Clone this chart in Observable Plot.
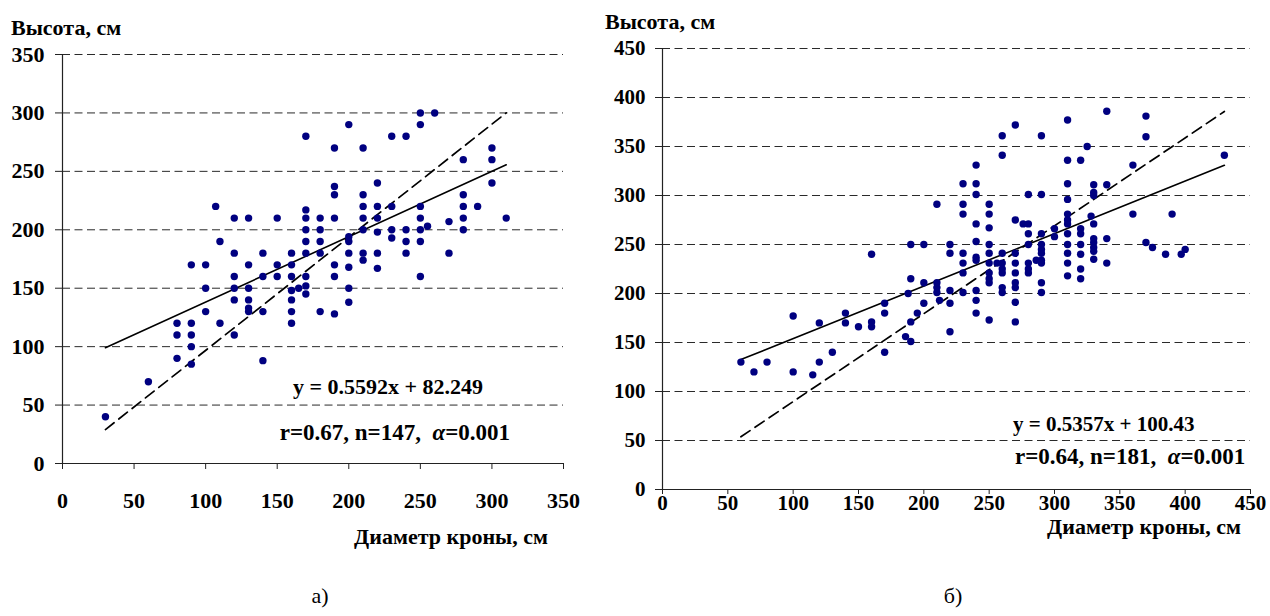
<!DOCTYPE html>
<html><head><meta charset="utf-8">
<script src="https://cdn.jsdelivr.net/npm/d3@7"></script>
<script src="https://cdn.jsdelivr.net/npm/@observablehq/plot@0.6"></script>
<style>
html,body{margin:0;padding:0;background:#fff;}
#page{position:relative;width:1270px;height:616px;overflow:hidden;font-family:"Liberation Serif","Times New Roman",serif;}
.panel{position:absolute;top:0;}
.t{position:absolute;white-space:pre;color:#000;line-height:1;}
</style></head><body><div id="page"></div>
<script>
// ---------- data ----------
const ticksXLeft = [0, 50, 100, 150, 200, 250, 300, 350];
const ticksYLeft = [0, 50, 100, 150, 200, 250, 300, 350];
const ticksXRight = [0, 50, 100, 150, 200, 250, 300, 350, 400, 450];
const ticksYRight = [0, 50, 100, 150, 200, 250, 300, 350, 400, 450];

// а) crown diameter (cm), height (cm)
const pointsLeft = [
  [30,40],[60,70],[80,120],[80,110],[80,90],[90,120],[90,110],[90,100],[90,85],[90,170],
  [100,170],[100,150],[100,130],[110,120],[110,190],[107,220],[120,210],[130,210],[150,210],
  [120,180],[120,160],[120,150],[120,140],[120,110],[130,170],[130,150],[130,140],[130,133],[130,130],
  [140,180],[140,160],[140,130],[140,88],[150,170],[150,160],
  [160,180],[160,170],[160,160],[160,148],[160,140],[160,130],[160,120],[165,150],
  [170,280],[170,217],[170,210],[170,200],[170,190],[170,180],[170,160],[170,152],[170,145],
  [180,210],[180,200],[180,190],[180,180],[180,130],
  [190,270],[190,237],[190,230],[190,210],[190,170],[190,160],[190,128],
  [200,290],[200,194],[200,190],[200,180],[200,168],[200,150],[200,138],
  [210,270],[210,230],[210,220],[210,210],[210,200],[210,180],[210,174],
  [220,240],[220,220],[220,210],[220,198],[220,180],[220,167],
  [230,280],[230,220],[230,200],[230,193],
  [240,280],[240,200],[240,190],[240,180],
  [250,300],[250,290],[250,220],[250,210],[250,200],[250,190],[250,160],
  [255,203],[260,300],[270,207],[270,180],
  [280,260],[280,230],[280,220],[280,210],[280,200],
  [290,220],[300,270],[300,260],[300,240],[310,210]
];
// б)
const pointsRight = [
  [60,130],[70,120],[80,130],[100,177],[100,120],[115,117],[120,170],[120,130],[130,140],
  [140,180],[140,170],[150,166],[160,240],[160,171],[160,166],
  [170,190],[170,180],[170,140],[186,156],[188,200],[190,250],[190,215],[190,171],[190,151],[195,180],
  [200,250],[200,211],[200,190],
  [210,291],[210,211],[210,206],[210,201],[212,193],
  [220,250],[220,241],[220,203],[220,190],[220,161],
  [230,312],[230,291],[230,281],[230,241],[230,231],[230,221],[230,201],
  [240,331],[240,312],[240,301],[240,271],[240,253],[240,237],[240,234],[240,203],[240,193],[240,180],
  [250,291],[250,281],[250,267],[250,250],[250,241],[250,231],[250,221],[250,215],[250,211],[250,173],
  [256,231],
  [260,361],[260,341],[260,241],[260,231],[260,225],[260,221],[260,206],[260,201],
  [270,372],[270,275],[270,241],[270,231],[270,221],[270,211],[270,206],[270,191],[270,171],
  [276,271],
  [280,301],[280,271],[280,261],[280,250],[280,231],[280,225],[280,221],
  [286,234],
  [290,361],[290,301],[290,261],[290,250],[290,245],[290,241],[290,234],[290,231],[290,211],[290,201],
  [300,266],[300,258],
  [310,377],[310,336],[310,312],[310,296],[310,281],[310,275],[310,271],[310,261],[310,250],
  [310,241],[310,231],[310,218],
  [320,336],[320,266],[320,261],[320,250],[320,240],[320,225],[320,215],
  [325,350],[328,279],
  [330,311],[330,303],[330,300],[330,271],[330,256],[330,252],[330,247],[330,243],[330,235],
  [340,386],[340,311],[340,256],[340,231],
  [360,331],[360,281],[370,381],[370,360],[370,252],[375,247],[385,240],[390,281],[397,240],[400,245],
  [430,341]
];

// trend lines: [slope, intercept]
const fitLeft = [0.5592, 82.249];
const fitRight = [0.5357, 100.43];
const dashedLeft = [0.968, 0];
const dashedRight = [0.897, 0];

const texts = {
  yTitle: "Высота, см",
  xTitle: "Диаметр кроны, см",
  eqLeft: "y = 0.5592x + 82.249",
  statLeft: ["r=0.67, n=147,  ", "α", "=0.001"],
  eqRight: "y = 0.5357x + 100.43",
  statRight: ["r=0.64, n=181,  ", "α", "=0.001"],
  capLeft: "а)",
  capRight: "б)"
};

// ---------- drawing ----------
const FONT = '"Liberation Serif","Times New Roman",serif';
const page = document.getElementById("page");

function panel({points, xMax, yMax, ticksX, ticksY, fit, dashed, width, height,
                marginLeft, marginRight, marginTop, marginBottom, fontSize, xPad, yPad, xTick}) {
  const data = points.map(([x, y]) => ({x, y}));
  const [x0, x1] = d3.extent(data, d => d.x);
  const solid = [x0, x1].map(x => ({x, y: fit[0] * x + fit[1]}));
  const dash = [x0, x1].map(x => ({x, y: dashed[0] * x + dashed[1]}));
  return Plot.plot({
    width, height, marginLeft, marginRight, marginTop, marginBottom,
    style: {fontFamily: FONT, fontSize: fontSize + "px", fontWeight: "bold", color: "#000", background: "transparent"},
    x: {domain: [0, xMax]},
    y: {domain: [0, yMax]},
    marks: [
      Plot.gridY(ticksY.filter(v => v > 0), {stroke: "#2a2a2a", strokeOpacity: 1, strokeWidth: 1, strokeDasharray: "8,4.5"}),
      Plot.ruleY([0], {stroke: "#222", strokeWidth: 1.2}),
      Plot.ruleX([0], {stroke: "#222", strokeWidth: 1.2}),
      Plot.axisY(ticksY, {tickSize: 7, tickPadding: yPad, label: null, stroke: "#222", fontSize, fontWeight: "bold", fontFamily: FONT}),
      Plot.axisX(ticksX, {tickSize: xTick, tickPadding: xPad, label: null, stroke: "#222", fontSize, fontWeight: "bold", fontFamily: FONT}),
      Plot.line(solid, {x: "x", y: "y", stroke: "#000", strokeWidth: 1.6}),
      Plot.line(dash, {x: "x", y: "y", stroke: "#000", strokeWidth: 1.7, strokeDasharray: "11,6"}),
      Plot.dot(data, {x: "x", y: "y", r: 3.7, fill: "#000080", stroke: "none"})
    ]
  });
}

const left = panel({
  points: pointsLeft, xMax: 350, yMax: 350, ticksX: ticksXLeft, ticksY: ticksYLeft,
  fit: fitLeft, dashed: dashedLeft, width: 600, height: 616,
  marginLeft: 62, marginRight: 37, marginTop: 54, marginBottom: 153, fontSize: 22, xPad: 23, yPad: 11, xTick: 6
});
left.classList.add("panel"); left.style.left = "0px";
page.appendChild(left);

const right = panel({
  points: pointsRight, xMax: 450, yMax: 450, ticksX: ticksXRight, ticksY: ticksYRight,
  fit: fitRight, dashed: dashedRight, width: 670, height: 616,
  marginLeft: 62, marginRight: 20, marginTop: 48, marginBottom: 127, fontSize: 21, xPad: 1, yPad: 10, xTick: 5
});
right.classList.add("panel"); right.style.left = "600px";
page.appendChild(right);

function label(content, {left, right, cx, cy, size = 22, bold = true}) {
  const el = document.createElement("div");
  el.className = "t";
  el.style.fontSize = size + "px";
  el.style.fontWeight = bold ? "bold" : "normal";
  if (Array.isArray(content)) {
    content.forEach(part => {
      const s = document.createElement("span");
      s.textContent = part;
      if (part === "α") s.style.fontStyle = "italic";
      el.appendChild(s);
    });
  } else el.textContent = content;
  el.style.top = (cy - 0.51 * size) + "px";
  if (left != null) el.style.left = left + "px";
  else if (right != null) el.style.right = (1270 - right) + "px";
  else { el.style.left = cx + "px"; el.style.transform = "translateX(-50%)"; }
  page.appendChild(el);
}

label(texts.yTitle, {left: 11, cy: 28, size: 22});
label(texts.yTitle, {left: 605, cy: 22, size: 22});
label(texts.xTitle, {right: 548, cy: 537, size: 22});
label(texts.xTitle, {right: 1241, cy: 527, size: 22});
label(texts.eqLeft, {left: 293, cy: 387, size: 22});
label(texts.statLeft, {right: 510, cy: 433, size: 23});
label(texts.eqRight, {left: 1013, cy: 425, size: 21});
label(texts.statRight, {left: 1015, cy: 457, size: 23});
label(texts.capLeft, {cx: 320, cy: 596, size: 22, bold: false});
label(texts.capRight, {cx: 953, cy: 596, size: 22, bold: false});
</script></body></html>
